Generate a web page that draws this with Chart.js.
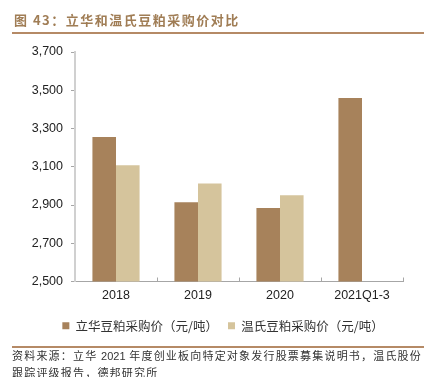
<!DOCTYPE html>
<html><head><meta charset="utf-8">
<script src="https://cdn.jsdelivr.net/npm/chart.js@4/dist/chart.umd.min.js"></script>
<style>
html,body{margin:0;padding:0;background:#fff;}
#wrap{position:relative;width:427px;height:377px;overflow:hidden;}
#c{position:absolute;left:0;top:0;}
.title{position:absolute;left:14px;top:10px;font-family:"Noto Sans CJK SC";font-weight:bold;font-size:13px;color:#A07D55;letter-spacing:1.5px;white-space:nowrap;}
.hl{position:absolute;left:12px;width:412px;height:2px;background:#B58A66;}
.src{position:absolute;left:12px;top:347px;font-family:"Noto Sans CJK SC";font-size:11px;line-height:16px;color:#333;letter-spacing:1.2px;white-space:nowrap;}
.src .n{font-family:"Liberation Sans";letter-spacing:0;}
</style></head>
<body><div id="wrap">
<canvas id="c" width="427" height="377"></canvas>
<div class="title">图 43：立华和温氏豆粕采购价对比</div>
<div class="hl" style="top:32px"></div>
<div class="hl" style="top:346px;height:1.5px"></div>
<div class="src">资料来源：立华 <span class="n">2021</span> 年度创业板向特定对象发行股票募集说明书，温氏股份<br>跟踪评级报告，德邦研究所</div>
</div>
<script>
const categories = ["2018", "2019", "2020", "2021Q1-3"];
const lihuaPrice = [3255, 2914, 2884, 3460];
const wensPrice = [3108, 3013, 2951, null];
const seriesNames = ["立华豆粕采购价（元/吨）", "温氏豆粕采购价（元/吨）"];
const yTicks = [2500, 2700, 2900, 3100, 3300, 3500, 3700];

const upTicks = {
  id: 'upTicks',
  afterLayout(chart) {
    if (chart.legend) { chart.legend.left += 43; }
  },
  afterDraw(chart) {
    const xs = chart.scales.x, ctx = chart.ctx;
    const w = (xs.right - xs.left) / categories.length;
    ctx.save();
    ctx.strokeStyle = '#A6A6A6'; ctx.lineWidth = 1;
    for (let i = 1; i <= categories.length; i++) {
      const px = Math.round(xs.getPixelForValue(i - 1) + w / 2) + 0.5;
      ctx.beginPath(); ctx.moveTo(px, xs.top); ctx.lineTo(px, xs.top - 4); ctx.stroke();
    }
    ctx.restore();
  }
};

new Chart(document.getElementById('c'), {
  type: 'bar',
  data: {
    labels: categories,
    datasets: [
      { label: seriesNames[0], data: lihuaPrice, backgroundColor: '#A7825B' },
      { label: seriesNames[1], data: wensPrice, backgroundColor: '#D5C49C' }
    ]
  },
  options: {
    responsive: false, animation: false,
    devicePixelRatio: 1,
    layout: { padding: { left: 0, right: 24, top: 52, bottom: 35 } },
    datasets: { bar: { categoryPercentage: 0.575, barPercentage: 1.0 } },
    plugins: {
      legend: {
        position: 'bottom',
        labels: { boxWidth: 7, boxHeight: 7, padding: 10, color: '#333',
          font: { family: 'Noto Sans CJK SC', size: 12.5 } }
      },
      tooltip: { enabled: false }
    },
    scales: {
      x: {
        afterFit(s) { s.height = 28; },
        grid: { display: false, drawTicks: false },
        border: { display: true, color: '#A6A6A6', width: 1 },
        ticks: { padding: 7, color: '#222', font: { family: 'Liberation Sans', size: 12.5 } }
      },
      y: {
        min: 2500, max: 3700,
        afterFit(s) { s.width = 75; },
        afterBuildTicks(s) { s.ticks = yTicks.map(v => ({ value: v })); },
        grid: { drawOnChartArea: false, drawTicks: true, tickLength: 4, color: '#A6A6A6' },
        border: { display: true, color: '#D0D0D0', width: 2 },
        ticks: { padding: 8, color: '#222', font: { family: 'Liberation Sans', size: 12.5 },
          callback: v => v.toLocaleString('en-US') }
      }
    }
  },
  plugins: [upTicks]
});
</script>
</body></html>
